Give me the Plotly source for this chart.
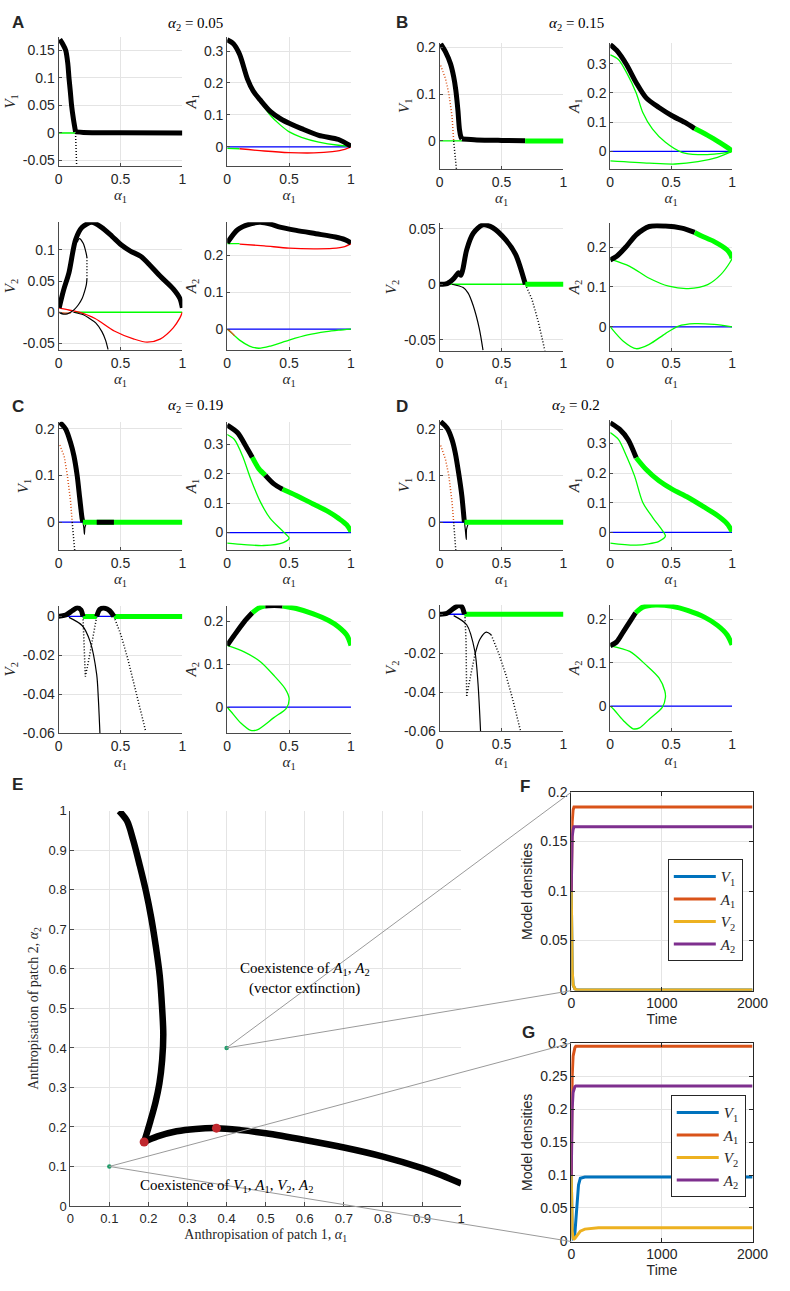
import plotly.graph_objects as go

W, H = 790, 1291

# ================= DATA =================
SMALL_XTICKS = [0, 0.5, 1]

# ---- Panel A : alpha2 = 0.05 ----
A_V1_yticks = [-0.05, 0, 0.05, 0.1, 0.15]
A_A1_yticks = [0, 0.1, 0.2, 0.3]
A_V2_yticks = [-0.05, 0, 0.05, 0.1]
A_A2_yticks = [0, 0.1, 0.2]
A_V1_black = ([0.01, 0.03, 0.058, 0.075, 0.084, 0.095, 0.105, 0.12, 0.137], [0.17, 0.163, 0.15, 0.125, 0.1, 0.075, 0.05, 0.025, 0.002])
A_V1_flat = ([0.137, 0.2, 0.5, 1.0], [0.002, 0.001, 0.0005, 0.0])
A_V1_green = ([0, 0.137], [0, 0])
A_V1_dots = ([0.137, 0.141, 0.146], [0, -0.03, -0.06])

A_A1_black = ([0, 0.05, 0.1, 0.163, 0.21, 0.268, 0.35, 0.43, 0.505, 0.6, 0.74, 0.9, 1.0], [0.335, 0.323, 0.29, 0.213, 0.175, 0.146, 0.11, 0.088, 0.073, 0.057, 0.036, 0.023, 0.002])
A_A1_green = ([0.2, 0.268, 0.35, 0.43, 0.505, 0.6, 0.74, 0.9, 1.0], [0.19, 0.143, 0.098, 0.068, 0.046, 0.03, 0.015, 0.005, 0.002])
A_A1_green_low = ([0, 0.1], [-0.005, -0.006])
A_A1_red = ([0.1, 0.3, 0.5, 0.7, 0.85, 0.95, 1.0], [-0.006, -0.013, -0.018, -0.019, -0.015, -0.008, 0.0])
A_A1_blue = ([0, 1], [0, 0])

A_V2_black = ([0.005, 0.04, 0.084, 0.137, 0.19, 0.268, 0.347, 0.43, 0.505, 0.58, 0.663, 0.74, 0.82, 0.926, 0.98, 1.0], [0.007, 0.035, 0.0635, 0.116, 0.136, 0.144, 0.136, 0.122, 0.108, 0.098, 0.0896, 0.075, 0.058, 0.0375, 0.022, 0.007])
A_V2_loop_a = ([0.15, 0.168, 0.2, 0.222, 0.229], [0.112, 0.118, 0.11, 0.095, 0.088])
A_V2_loop_dots = ([0.229, 0.23, 0.229], [0.088, 0.07, 0.053])
A_V2_loop_b = ([0.229, 0.225, 0.216, 0.19, 0.16, 0.13, 0.1, 0.07, 0.04, 0.01], [0.053, 0.045, 0.0375, 0.022, 0.012, 0.005, 0.0005, -0.0025, -0.003, -0.001])
A_V2_thin = ([0.12, 0.2, 0.25, 0.3, 0.35, 0.38, 0.4], [0.0, -0.004, -0.01, -0.017, -0.031, -0.045, -0.06])
A_V2_red = ([0, 0.084, 0.163, 0.295, 0.45, 0.61, 0.715, 0.82, 0.926, 0.98, 1.0], [0.007, 0.0036, 0, -0.01, -0.03, -0.043, -0.048, -0.043, -0.025, -0.009, 0])
A_V2_green = ([0.13, 1.0], [0, 0])
A_V2_orange = ([0, 0.05, 0.1], [0, -0.0015, -0.001])

A_A2_black = ([0, 0.084, 0.19, 0.268, 0.35, 0.426, 0.558, 0.716, 0.874, 0.95, 1.0], [0.234, 0.27, 0.286, 0.29, 0.285, 0.277, 0.268, 0.259, 0.25, 0.243, 0.234])
A_A2_green = ([0, 0.1], [0.232, 0.232])
A_A2_red = ([0.1, 0.3, 0.5, 0.7, 0.85, 0.95, 1.0], [0.231, 0.226, 0.22, 0.218, 0.219, 0.224, 0.232])
A_A2_blue = ([0, 1], [0, 0])
A_A2_green_low = ([0, 0.05, 0.1, 0.18, 0.255, 0.35, 0.5, 0.65, 0.8, 0.9, 1.0], [0, -0.015, -0.03, -0.046, -0.052, -0.046, -0.03, -0.016, -0.007, -0.003, 0])
A_A2_orange = ([0, 0.03, 0.06], [0, -0.008, -0.018])

# ---- Panel B : alpha2 = 0.15 ----
B_V1_yticks = [0, 0.1, 0.2]
B_A1_yticks = [0, 0.1, 0.2, 0.3]
B_V2_yticks = [-0.05, 0, 0.05]
B_A2_yticks = [0, 0.1, 0.2]
B_V1_black = ([0.008, 0.047, 0.087, 0.113, 0.13, 0.147, 0.16, 0.172, 0.18], [0.207, 0.19, 0.165, 0.137, 0.109, 0.066, 0.024, 0.008, 0.004])
B_V1_flat = ([0.18, 0.3, 0.5, 0.69], [0.004, 0.002, 0.001, 0.0005])
B_V1_green_thick = ([0.69, 1.0], [0, 0])
B_V1_green = ([0, 0.18], [0, 0])
B_V1_orange = ([0.008, 0.047, 0.074, 0.1, 0.113], [0.161, 0.133, 0.101, 0.052, 0.0])
B_V1_dots = ([0.113, 0.125, 0.135], [0, -0.03, -0.06])

B_A1_black = ([0, 0.053, 0.133, 0.213, 0.293, 0.4, 0.507, 0.613, 0.693], [0.365, 0.345, 0.297, 0.235, 0.184, 0.15, 0.122, 0.099, 0.078])
B_A1_green_thick = ([0.693, 0.75, 0.8, 0.853, 0.9, 0.96, 1.0], [0.078, 0.066, 0.055, 0.042, 0.03, 0.0136, 0.002])
B_A1_green = ([0, 0.067, 0.133, 0.213, 0.267, 0.347, 0.453, 0.587, 0.72, 0.853, 0.96, 1.0], [0.33, 0.314, 0.27, 0.2, 0.133, 0.076, 0.031, -0.003, -0.011, -0.009, -0.003, 0])
B_A1_green_low = ([0, 0.32, 0.533, 0.72, 0.88, 1.0], [-0.032, -0.04, -0.043, -0.035, -0.02, 0])
B_A1_blue = ([0, 1], [0, 0])

B_V2_black = ([0, 0.06, 0.113, 0.153, 0.171, 0.187, 0.218, 0.271, 0.35, 0.429, 0.534, 0.613, 0.692], [0, 0.0006, 0.005, 0.0104, 0.008, 0.0134, 0.031, 0.046, 0.0536, 0.051, 0.04, 0.027, 0.0])
B_V2_green = ([0, 0.692], [0, 0])
B_V2_green_thick = ([0.692, 1.0], [0, 0])
B_V2_thin = ([0.1, 0.19, 0.23, 0.27, 0.32, 0.35], [0, -0.003, -0.008, -0.019, -0.04, -0.0595])
B_V2_dots = ([0.692, 0.745, 0.797, 0.85], [0, -0.0134, -0.034, -0.06])

B_A2_black = ([0, 0.053, 0.133, 0.213, 0.32, 0.453, 0.587, 0.693], [0.168, 0.177, 0.202, 0.231, 0.252, 0.253, 0.248, 0.237])
B_A2_green_thick = ([0.693, 0.75, 0.853, 0.96, 0.99, 1.0], [0.237, 0.228, 0.214, 0.193, 0.18, 0.172])
B_A2_green = ([0, 0.16, 0.32, 0.48, 0.64, 0.8, 0.907, 0.987, 1.0], [0.17, 0.152, 0.122, 0.102, 0.096, 0.106, 0.131, 0.164, 0.172])
B_A2_green_low = ([0, 0.107, 0.213, 0.32, 0.453, 0.56, 0.693, 0.853, 1.0], [0, -0.036, -0.055, -0.044, -0.017, 0.002, 0.008, 0.006, 0])
B_A2_blue = ([0, 1], [0, 0])

# ---- Panel C : alpha2 = 0.19 ----
C_V1_yticks = [0, 0.1, 0.2]
C_A1_yticks = [0, 0.1, 0.2, 0.3]
C_V2_yticks = [-0.06, -0.04, -0.02, 0]
C_A2_yticks = [0, 0.1, 0.2]
C_V1_black = ([0.01, 0.058, 0.097, 0.124, 0.15, 0.171, 0.19, 0.197], [0.214, 0.199, 0.17, 0.142, 0.1, 0.051, 0.008, 0.0])
C_V1_green_thick = ([0.197, 1.0], [0, 0])
C_V1_black_seg = ([0.308, 0.447], [0, 0])
C_V1_blue = ([0, 0.197], [0, 0])
C_V1_orange = ([0.01, 0.045, 0.071, 0.097, 0.11], [0.165, 0.142, 0.1, 0.044, 0.0])
C_V1_dots = ([0.11, 0.12, 0.13], [0, -0.03, -0.06])
C_V1_hook = ([0.197, 0.204, 0.209, 0.212, 0.22], [0, -0.012, -0.026, -0.012, -0.005])

C_A1_black1 = ([0, 0.084, 0.15, 0.203], [0.365, 0.339, 0.294, 0.255])
C_A1_green1 = ([0.203, 0.255, 0.308], [0.255, 0.217, 0.194])
C_A1_black2 = ([0.308, 0.374, 0.447], [0.194, 0.166, 0.147])
C_A1_green2 = ([0.447, 0.558, 0.69, 0.82, 0.9, 0.966, 1.0], [0.147, 0.126, 0.098, 0.07, 0.048, 0.026, 0.003])
C_A1_green = ([0, 0.058, 0.124, 0.19, 0.268, 0.347, 0.453, 0.5, 0.453, 0.295, 0.137, 0], [0.333, 0.316, 0.26, 0.182, 0.104, 0.048, 0.003, -0.019, -0.034, -0.044, -0.041, -0.036])
C_A1_blue = ([0, 1], [0, 0])

C_V2_black1 = ([0, 0.058, 0.11, 0.15, 0.18, 0.197], [0, 0.0007, 0.0029, 0.0045, 0.0034, 0])
C_V2_black2 = ([0.308, 0.334, 0.374, 0.413, 0.447], [0, 0.0037, 0.0042, 0.0029, 0])
C_V2_green_thick1 = ([0.197, 0.308], [0, 0])
C_V2_green_thick2 = ([0.447, 1.0], [0, 0])
C_V2_blue1 = ([0, 0.197], [0, 0])
C_V2_blue2 = ([0.308, 0.447], [0, 0])
C_V2_thin = ([0.084, 0.19, 0.255, 0.308, 0.321, 0.334], [-0.0005, -0.0047, -0.013, -0.03, -0.042, -0.06])
C_V2_dots_v = ([0.197, 0.203, 0.216, 0.242, 0.268, 0.295, 0.308], [0, -0.013, -0.031, -0.023, -0.013, -0.0047, 0])
C_V2_dots_r = ([0.447, 0.505, 0.558, 0.61, 0.663, 0.703], [0, -0.0098, -0.0216, -0.035, -0.0487, -0.059])

C_A2_black1 = ([0, 0.058, 0.137, 0.203], [0.144, 0.168, 0.199, 0.22])
C_A2_green1 = ([0.203, 0.255, 0.308], [0.22, 0.231, 0.236])
C_A2_black2 = ([0.308, 0.38, 0.447], [0.236, 0.237, 0.236])
C_A2_green2 = ([0.447, 0.558, 0.69, 0.82, 0.9, 0.966, 1.0], [0.236, 0.23, 0.218, 0.202, 0.187, 0.168, 0.144])
C_A2_green = ([0, 0.137, 0.268, 0.374, 0.466, 0.5, 0.479, 0.374, 0.242, 0.19, 0.11, 0.03, 0], [0.144, 0.129, 0.106, 0.075, 0.044, 0.021, -0.002, -0.025, -0.053, -0.054, -0.037, -0.01, 0])
C_A2_blue = ([0, 1], [0, 0])

# ---- Panel D : alpha2 = 0.2 ----
D_V1_yticks = [0, 0.1, 0.2]
D_A1_yticks = [0, 0.1, 0.2, 0.3]
D_V2_yticks = [-0.06, -0.04, -0.02, 0]
D_A2_yticks = [0, 0.1, 0.2]
D_V1_black = ([0.008, 0.06, 0.1, 0.126, 0.153, 0.179, 0.197, 0.2], [0.216, 0.202, 0.177, 0.149, 0.106, 0.057, 0.007, 0])
D_V1_green_thick = ([0.2, 1.0], [0, 0])
D_V1_blue = ([0, 0.2], [0, 0])
D_V1_orange = ([0.008, 0.047, 0.074, 0.1, 0.113], [0.165, 0.135, 0.1, 0.043, 0])
D_V1_dots = ([0.113, 0.122, 0.13], [0, -0.03, -0.06])
D_V1_hook = ([0.2, 0.208, 0.215, 0.217, 0.228], [0, -0.018, -0.037, -0.015, -0.005])

D_A1_black = ([0, 0.08, 0.147, 0.213], [0.37, 0.347, 0.313, 0.252])
D_A1_green_thick = ([0.213, 0.293, 0.4, 0.507, 0.64, 0.773, 0.88, 0.96, 1.0], [0.252, 0.213, 0.174, 0.146, 0.118, 0.085, 0.057, 0.029, 0.003])
D_A1_green = ([0, 0.067, 0.133, 0.2, 0.267, 0.347, 0.427, 0.453, 0.4, 0.213, 0], [0.337, 0.314, 0.258, 0.19, 0.101, 0.051, 0.007, -0.012, -0.03, -0.043, -0.036])
D_A1_blue = ([0, 1], [0, 0])

D_V2_black = ([0, 0.06, 0.113, 0.153, 0.179, 0.2], [0, 0.0005, 0.003, 0.0045, 0.0039, 0])
D_V2_green_thick = ([0.2, 1.0], [0, 0])
D_V2_blue = ([0, 0.2], [0, 0])
D_V2_thin = ([0.113, 0.218, 0.284, 0.31, 0.33], [-0.0007, -0.0054, -0.019, -0.036, -0.06])
D_V2_dots_a = ([0.2, 0.205, 0.213, 0.218], [0, -0.002, -0.014, -0.042])
D_V2_dots_b = ([0.218, 0.232, 0.258, 0.284], [-0.042, -0.038, -0.029, -0.021])
D_V2_arc = ([0.284, 0.324, 0.376, 0.416], [-0.021, -0.013, -0.0092, -0.0105])
D_V2_dots_r = ([0.416, 0.48, 0.534, 0.587, 0.653], [-0.0105, -0.0207, -0.031, -0.043, -0.06])

D_A2_black = ([0, 0.053, 0.107, 0.16, 0.208], [0.139, 0.148, 0.171, 0.194, 0.215])
D_A2_green_thick = ([0.208, 0.267, 0.373, 0.507, 0.64, 0.773, 0.88, 0.96, 1.0], [0.215, 0.228, 0.233, 0.23, 0.22, 0.205, 0.186, 0.164, 0.141])
D_A2_green = ([0, 0.16, 0.293, 0.4, 0.448, 0.453, 0.427, 0.32, 0.24, 0.187, 0.107, 0.027, 0], [0.139, 0.126, 0.095, 0.065, 0.035, 0.02, -0.003, -0.03, -0.05, -0.052, -0.033, -0.007, 0])
D_A2_blue = ([0, 1], [0, 0])

# ---- Panel E : two-parameter diagram ----
E_ticks = [0, 0.1, 0.2, 0.3, 0.4, 0.5, 0.6, 0.7, 0.8, 0.9, 1]
E_upper = ([0.125, 0.145, 0.161, 0.178, 0.194, 0.207, 0.219, 0.229, 0.235, 0.238, 0.235, 0.228, 0.218, 0.205, 0.189],
           [1.0, 0.975, 0.926, 0.861, 0.795, 0.73, 0.656, 0.582, 0.5, 0.434, 0.369, 0.31, 0.262, 0.215, 0.162])
E_lower = ([0.189, 0.223, 0.272, 0.321, 0.374, 0.436, 0.5, 0.6, 0.7, 0.8, 0.9, 0.95, 1.0],
           [0.162, 0.176, 0.189, 0.195, 0.197, 0.192, 0.184, 0.167, 0.148, 0.125, 0.096, 0.078, 0.057])
E_red_x = [0.189, 0.374]
E_red_y = [0.162, 0.197]
E_sample_x = [0.4, 0.1]   # -> F, G
E_sample_y = [0.4, 0.1]

# ---- Panel F, G : time series ----
F_t = [0, 5, 10, 20, 30, 40, 60, 100, 500, 2000]
F_V1 = [0.1, 0.05, 0.02, 0.005, 0.002, 0.001, 0, 0, 0, 0]
F_A1 = [0.1, 0.15, 0.17, 0.182, 0.185, 0.185, 0.185, 0.185, 0.185, 0.185]
F_V2 = [0.1, 0.05, 0.02, 0.005, 0.002, 0.001, 0, 0, 0, 0]
F_A2 = [0.1, 0.14, 0.155, 0.162, 0.165, 0.165, 0.165, 0.165, 0.165, 0.165]
F_yticks = [0, 0.05, 0.1, 0.15, 0.2]

G_t = [0, 5, 10, 20, 30, 40, 50, 60, 80, 100, 150, 200, 300, 2000]
G_V1 = [0.1, 0.04, 0.015, 0.004, 0.005, 0.012, 0.03, 0.055, 0.085, 0.095, 0.097, 0.097, 0.097, 0.097]
G_A1 = [0.1, 0.2, 0.25, 0.28, 0.29, 0.293, 0.295, 0.295, 0.295, 0.295, 0.295, 0.295, 0.295, 0.295]
G_V2 = [0.1, 0.04, 0.015, 0.004, 0.003, 0.004, 0.006, 0.008, 0.012, 0.015, 0.018, 0.019, 0.02, 0.02]
G_A2 = [0.1, 0.17, 0.2, 0.225, 0.232, 0.234, 0.235, 0.235, 0.235, 0.235, 0.235, 0.235, 0.235, 0.235]
G_yticks = [0, 0.05, 0.1, 0.15, 0.2, 0.25, 0.3]
TS_xticks = [0, 1000, 2000]
TS_names = ['<i>V</i><sub>1</sub>', '<i>A</i><sub>1</sub>', '<i>V</i><sub>2</sub>', '<i>A</i><sub>2</sub>']
TS_colors = ['#0072BD', '#D95319', '#EDB120', '#7E2F8E']

# ================= STYLE =================
SANS = 'Liberation Sans, Arial, Helvetica, sans-serif'
SERIF = 'Liberation Serif, Times New Roman, serif'
AXC = '#4a4a4a'
GRID = '#e4e4e4'
GREEN = '#00ff00'
DOT = '1px,2px'
STY = {
    'bk': dict(color='black', width=5),
    'gk': dict(color=GREEN, width=5),
    'k': dict(color='black', width=1.2),
    'kd': dict(color='black', width=1.5, dash=DOT),
    'g': dict(color=GREEN, width=1.3),
    'b': dict(color='#0000ff', width=1.3),
    'r': dict(color='#ff0000', width=1.3),
    'o': dict(color='#D95319', width=1.3),
    'od': dict(color='#D95319', width=1.5, dash=DOT),
}

fig = go.Figure()
layout = {}

def lbl(vals):
    return [f"{v:g}" for v in vals]

def doms(px, py):
    return [px[0] / W, px[1] / W], [1 - py[1] / H, 1 - py[0] / H]

TICKF = dict(family=SANS, size=14, color='#262626')

def small_axes(i, px, py, yr, yt, ytitle):
    xd, yd = doms(px, py)
    layout[f'xaxis{i}'] = dict(domain=xd, anchor=f'y{i}', range=[0, 1], tickvals=SMALL_XTICKS,
                               ticktext=lbl(SMALL_XTICKS), showline=True, linecolor=AXC, linewidth=1,
                               ticks='inside', ticklen=3, tickcolor=AXC, showgrid=True, gridcolor=GRID,
                               zeroline=False, tickfont=TICKF,
                               title=dict(text='<i>α</i><sub>1</sub>', font=dict(family=SERIF, size=15, color='#262626'), standoff=2))
    layout[f'yaxis{i}'] = dict(domain=yd, anchor=f'x{i}', range=list(yr), tickvals=yt, ticktext=lbl(yt),
                               showline=True, linecolor=AXC, linewidth=1, ticks='inside', ticklen=3,
                               tickcolor=AXC, showgrid=True, gridcolor=GRID, zeroline=False,
                               tickfont=TICKF,
                               title=dict(text=ytitle, font=dict(family=SERIF, size=15, color='#262626'), standoff=3))

V1T = '<i>V</i><sub>1</sub>'; A1T = '<i>A</i><sub>1</sub>'
V2T = '<i>V</i><sub>2</sub>'; A2T = '<i>A</i><sub>2</sub>'

small_axes(1, (56, 183), (29, 160), (-0.06, 0.175), A_V1_yticks, V1T)
small_axes(2, (229, 356), (29, 160), (-0.06, 0.345), A_A1_yticks, A1T)
small_axes(3, (56, 183), (217, 346), (-0.06, 0.144), A_V2_yticks, V2T)
small_axes(4, (229, 356), (217, 346), (-0.056, 0.29), A_A2_yticks, A2T)
small_axes(5, (447, 574), (35, 163), (-0.06, 0.21), B_V1_yticks, V1T)
small_axes(6, (622, 747), (35, 163), (-0.06, 0.372), B_A1_yticks, A1T)
small_axes(7, (447, 574), (218, 347), (-0.06, 0.055), B_V2_yticks, V2T)
small_axes(8, (622, 747), (218, 347), (-0.06, 0.26), B_A2_yticks, A2T)
small_axes(9, (56, 183), (419, 549), (-0.06, 0.215), C_V1_yticks, V1T)
small_axes(10, (229, 356), (419, 549), (-0.06, 0.376), C_A1_yticks, A1T)
small_axes(11, (56, 183), (605, 734), (-0.06, 0.0056), C_V2_yticks, V2T)
small_axes(12, (229, 356), (605, 734), (-0.06, 0.237), C_A2_yticks, A2T)
small_axes(13, (447, 574), (417, 549), (-0.06, 0.22), D_V1_yticks, V1T)
small_axes(14, (622, 747), (417, 549), (-0.06, 0.38), D_A1_yticks, A1T)
small_axes(15, (447, 574), (604, 732), (-0.06, 0.005), D_V2_yticks, V2T)
small_axes(16, (622, 747), (604, 732), (-0.057, 0.234), D_A2_yticks, A2T)

def add(i, data, sty):
    st = STY[sty]
    shape = 'spline' if (len(data[0]) > 2 and 'dash' not in st) else 'linear'
    fig.add_trace(go.Scatter(x=data[0], y=data[1], mode='lines', xaxis=f'x{i}', yaxis=f'y{i}',
                             line=dict(shape=shape, smoothing=0.8, **st), showlegend=False, hoverinfo='skip'))

# Panel A
add(1, A_V1_green, 'g'); add(1, A_V1_dots, 'kd'); add(1, A_V1_black, 'bk'); add(1, A_V1_flat, 'bk')
add(2, A_A1_blue, 'b'); add(2, A_A1_green_low, 'g'); add(2, A_A1_red, 'r'); add(2, A_A1_green, 'g'); add(2, A_A1_black, 'bk')
add(3, A_V2_green, 'g'); add(3, A_V2_red, 'r'); add(3, A_V2_orange, 'o'); add(3, A_V2_thin, 'k')
add(3, A_V2_loop_a, 'k'); add(3, A_V2_loop_dots, 'kd'); add(3, A_V2_loop_b, 'k'); add(3, A_V2_black, 'bk')
add(4, A_A2_blue, 'b'); add(4, A_A2_green_low, 'g'); add(4, A_A2_orange, 'o'); add(4, A_A2_red, 'r'); add(4, A_A2_green, 'g'); add(4, A_A2_black, 'bk')
# Panel B
add(5, B_V1_green, 'g'); add(5, B_V1_orange, 'od'); add(5, B_V1_dots, 'kd'); add(5, B_V1_black, 'bk'); add(5, B_V1_flat, 'bk'); add(5, B_V1_green_thick, 'gk')
add(6, B_A1_blue, 'b'); add(6, B_A1_green_low, 'g'); add(6, B_A1_green, 'g'); add(6, B_A1_black, 'bk'); add(6, B_A1_green_thick, 'gk')
add(7, B_V2_green, 'g'); add(7, B_V2_thin, 'k'); add(7, B_V2_dots, 'kd'); add(7, B_V2_black, 'bk'); add(7, B_V2_green_thick, 'gk')
add(8, B_A2_blue, 'b'); add(8, B_A2_green_low, 'g'); add(8, B_A2_green, 'g'); add(8, B_A2_black, 'bk'); add(8, B_A2_green_thick, 'gk')
# Panel C
add(9, C_V1_blue, 'b'); add(9, C_V1_orange, 'od'); add(9, C_V1_dots, 'kd'); add(9, C_V1_hook, 'k'); add(9, C_V1_black, 'bk'); add(9, C_V1_green_thick, 'gk'); add(9, C_V1_black_seg, 'bk')
add(10, C_A1_blue, 'b'); add(10, C_A1_green, 'g'); add(10, C_A1_black1, 'bk'); add(10, C_A1_green1, 'gk'); add(10, C_A1_black2, 'bk'); add(10, C_A1_green2, 'gk')
add(11, C_V2_thin, 'k'); add(11, C_V2_dots_v, 'kd'); add(11, C_V2_dots_r, 'kd'); add(11, C_V2_blue1, 'b'); add(11, C_V2_blue2, 'b')
add(11, C_V2_green_thick1, 'gk'); add(11, C_V2_green_thick2, 'gk'); add(11, C_V2_black1, 'bk'); add(11, C_V2_black2, 'bk')
add(12, C_A2_blue, 'b'); add(12, C_A2_green, 'g'); add(12, C_A2_black1, 'bk'); add(12, C_A2_green1, 'gk'); add(12, C_A2_black2, 'bk'); add(12, C_A2_green2, 'gk')
# Panel D
add(13, D_V1_blue, 'b'); add(13, D_V1_orange, 'od'); add(13, D_V1_dots, 'kd'); add(13, D_V1_hook, 'k'); add(13, D_V1_black, 'bk'); add(13, D_V1_green_thick, 'gk')
add(14, D_A1_blue, 'b'); add(14, D_A1_green, 'g'); add(14, D_A1_black, 'bk'); add(14, D_A1_green_thick, 'gk')
add(15, D_V2_thin, 'k'); add(15, D_V2_dots_a, 'kd'); add(15, D_V2_dots_b, 'kd'); add(15, D_V2_arc, 'k'); add(15, D_V2_dots_r, 'kd')
add(15, D_V2_blue, 'b'); add(15, D_V2_green_thick, 'gk'); add(15, D_V2_black, 'bk')
add(16, D_A2_blue, 'b'); add(16, D_A2_green, 'g'); add(16, D_A2_black, 'bk'); add(16, D_A2_green_thick, 'gk')

# Panel E
E_px, E_py = (68, 469), (813, 1213)
exd, eyd = doms(E_px, E_py)
ax_common = dict(showline=True, linecolor=AXC, linewidth=1, ticks='inside', ticklen=4, tickcolor=AXC,
                 showgrid=True, gridcolor=GRID, zeroline=False, tickfont=dict(family=SANS, size=13, color='#262626'))
layout['xaxis17'] = dict(domain=exd, anchor='y17', range=[0, 1], tickvals=E_ticks, ticktext=lbl(E_ticks),
                         title=dict(text='Anthropisation of patch 1, <i>α</i><sub>1</sub>', font=dict(family=SERIF, size=14, color='#262626'), standoff=4), **ax_common)
layout['yaxis17'] = dict(domain=eyd, anchor='x17', range=[0, 1], tickvals=E_ticks, ticktext=lbl(E_ticks),
                         title=dict(text='Anthropisation of patch 2, <i>α</i><sub>2</sub>', font=dict(family=SERIF, size=14, color='#262626'), standoff=6), **ax_common)
for d in (E_upper, E_lower):
    fig.add_trace(go.Scatter(x=d[0], y=d[1], mode='lines', xaxis='x17', yaxis='y17',
                             line=dict(color='black', width=6.5, shape='spline', smoothing=0.9), showlegend=False, hoverinfo='skip'))
fig.add_trace(go.Scatter(x=E_red_x, y=E_red_y, mode='markers', xaxis='x17', yaxis='y17',
                         marker=dict(color='#C0282E', size=9), showlegend=False, hoverinfo='skip'))
fig.add_trace(go.Scatter(x=E_sample_x, y=E_sample_y, mode='markers', xaxis='x17', yaxis='y17',
                         marker=dict(color='#1f9e6a', size=4.5), showlegend=False, hoverinfo='skip'))

# Panels F, G
F_px, F_py = (582, 768), (794, 995)
G_px, G_py = (582, 768), (1048, 1249)
ts_common = dict(showline=True, linecolor='#262626', linewidth=1, mirror='ticks', ticks='inside', ticklen=4,
                 tickcolor='#262626', showgrid=True, gridcolor=GRID, zeroline=False,
                 tickfont=dict(family=SANS, size=14, color='#262626'))
for i, px, py, yt in ((18, F_px, F_py, F_yticks), (19, G_px, G_py, G_yticks)):
    xd, yd = doms(px, py)
    layout[f'xaxis{i}'] = dict(domain=xd, anchor=f'y{i}', range=[0, 2000], tickvals=TS_xticks, ticktext=lbl(TS_xticks),
                               title=dict(text='Time', font=dict(family=SANS, size=14, color='#262626'), standoff=2), **ts_common)
    layout[f'yaxis{i}'] = dict(domain=yd, anchor=f'x{i}', range=[-0.0008, yt[-1]], tickvals=yt, ticktext=lbl(yt),
                               title=dict(text='Model densities', font=dict(family=SANS, size=14, color='#262626'), standoff=4), **ts_common)
for i, t, series, lg in ((18, F_t, (F_V1, F_A1, F_V2, F_A2), 'legend'), (19, G_t, (G_V1, G_A1, G_V2, G_A2), 'legend2')):
    for name, col, ys in zip(TS_names, TS_colors, series):
        fig.add_trace(go.Scatter(x=t, y=ys, mode='lines', name=name, xaxis=f'x{i}', yaxis=f'y{i}',
                                 line=dict(color=col, width=3), legend=lg, hoverinfo='skip'))

leg_common = dict(bordercolor='#262626', borderwidth=1, bgcolor='white', itemwidth=42, tracegroupgap=0,
                  font=dict(family=SERIF, size=15, color='#262626'), xanchor='right', yanchor='top', itemclick=False)
layout['legend'] = dict(x=758 / W, y=1 - 862 / H, **leg_common)
layout['legend2'] = dict(x=761 / W, y=1 - 1101 / H, **leg_common)

# connector lines from E sample points to F and G
def ex(v):
    return (E_px[0] + v * (E_px[1] - E_px[0])) / W

def ey(v):
    return 1 - (E_py[1] - v * (E_py[1] - E_py[0])) / H

shapes = []
for sx, sy, (tpx, tpy) in zip(E_sample_x, E_sample_y, ((F_px, F_py), (G_px, G_py))):
    for corner in (tpy[0], tpy[1]):
        shapes.append(dict(type='line', xref='paper', yref='paper', x0=ex(sx), y0=ey(sy),
                           x1=tpx[0] / W, y1=1 - corner / H, line=dict(color='#9a9a9a', width=1), layer='above'))

# annotations
ann = []
for letter, (lx, ly) in zip('ABCDEFG', [(14, 15), (408, 15), (14, 403), (408, 403), (14, 786), (535, 788), (538, 1037)]):
    ann.append(dict(text=f'<b>{letter}</b>', x=lx / W, y=1 - ly / H, xref='paper', yref='paper', showarrow=False,
                    font=dict(family=SANS, size=17, color='#262626'), xanchor='center', yanchor='middle'))
for txt, (tx, ty) in zip(['0.05', '0.15', '0.19', '0.2'], [(196, 16), (587, 16), (196, 403), (587, 403)]):
    ann.append(dict(text=f'<i>α</i><sub>2</sub> = {txt}', x=tx / W, y=1 - ty / H, xref='paper', yref='paper', showarrow=False,
                    font=dict(family=SERIF, size=15, color='black'), xanchor='center', yanchor='middle'))
ann.append(dict(text='Coexistence of <i>A</i><sub>1</sub>, <i>A</i><sub>2</sub>', x=0.6, y=0.6, xref='x17', yref='y17',
                showarrow=False, font=dict(family=SERIF, size=15, color='black')))
ann.append(dict(text='(vector extinction)', x=0.6, y=0.55, xref='x17', yref='y17',
                showarrow=False, font=dict(family=SERIF, size=15, color='black')))
ann.append(dict(text='Coexistence of <i>V</i><sub>1</sub>, <i>A</i><sub>1</sub>, <i>V</i><sub>2</sub>, <i>A</i><sub>2</sub>',
                x=0.4, y=0.05, xref='x17', yref='y17', showarrow=False, font=dict(family=SERIF, size=15, color='black')))

fig.update_layout(width=W, height=H, margin=dict(l=0, r=0, t=0, b=0), plot_bgcolor='white',
                  paper_bgcolor='white', showlegend=True, shapes=shapes, annotations=ann, **layout)
fig.write_html('out.html')
